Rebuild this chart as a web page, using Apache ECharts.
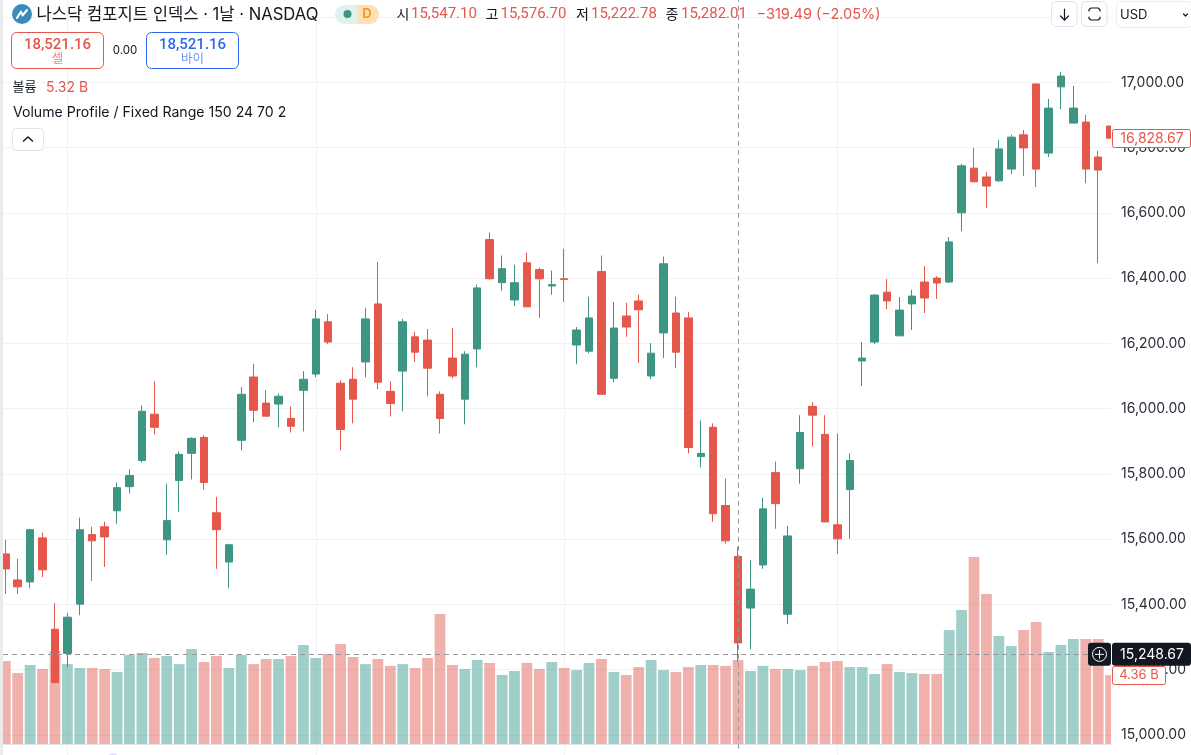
<!DOCTYPE html>
<html><head><meta charset="utf-8">
<style>html,body{margin:0;padding:0;background:#fff}#c{width:1191px;height:755px}</style>
<script src="https://cdn.jsdelivr.net/npm/echarts@6/dist/echarts.min.js"></script>
</head><body><div id="c"></div>
<script>
const opens  = [15555,15475,15469,15604,15324,15250,15401,15614,15638,15687,15761,15841,15983,15598,15780,15863,15912,15681,15530,15903,16097,16017,16014,15970,16056,16106,16266,16078,16090,16143,16321,16053,16115,16220,16210,16044,16155,16029,16183,16518,16386,16333,16447,16426,16376,16398,16195,16176,16420,16093,16284,16330,16100,16232,16293,16278,15853,15943,15703,15547.10,15389,15521,15804,15370,15816,16007,15921,15644,15752,16146,16204,16357,16223,16321,16388,16400,16388,16600,16737,16710,16698,16734,16839,16995,16783,16986,16875,16878,16771,16866];
const closes = [15509,15454,15629,15506,15161,15361,15629,15595,15607,15758,15795,15992,15943,15657,15860,15909,15774,15629,15583,16044,15995,15977,16038,15946,16090,16275,16204,15936,16029,16275,16081,16016,16266,16173,16124,15970,16100,16167,16370,16398,16429,16386,16312,16398,16380,16396,16241,16278,16044,16247,16250,16303,16170,16444,16173,15881,15863,15678,15595,15282.01,15447,15693,15709,15610,15927,15980,15653,15601,15841,16155,16348,16330,16302,16345,16339,16385,16511,16744,16695,16682,16796,16832,16799,16734,16921,17019,16921,16734,16731,16828.67];
const lows   = [15432,15432,15450,15484,15158,15207,15367,15472,15515,15647,15740,15835,15921,15552,15684,15783,15752,15509,15450,15872,15958,15977,15943,15927,15930,16096,16198,15872,15955,16096,16060,15976,15992,16143,16038,15924,16093,15952,16127,16395,16361,16315,16312,16278,16349,16327,16136,16170,16044,16081,16220,16140,16090,16155,16124,15863,15820,15653,15586,15222.78,15263,15509,15632,15340,15770,15884,15653,15555,15601,16069,16198,16305,16223,16241,16293,16336,16385,16544,16695,16615,16695,16719,16713,16679,16771,16918,16875,16691,16446,16828.67];
const highs  = [15598,15540,15632,15620,15404,15374,15666,15638,15654,15774,15814,16010,16084,15770,15869,15912,15918,15730,15586,16066,16137,16057,16047,16007,16115,16303,16290,16087,16127,16309,16450,16084,16275,16235,16244,16053,16247,16176,16380,16540,16469,16441,16478,16432,16423,16490,16250,16343,16469,16327,16324,16349,16201,16466,16343,16296,15964,15955,15786,15576.70,15536,15727,15838,15641,15980,16020,15980,15924,15863,16204,16351,16397,16342,16364,16437,16406,16526,16750,16799,16725,16823,16839,16854,16995,16949,17032,16989,16900,16790,16866];
const volumes= [5.25,4.49,5.0,4.75,5.89,5.06,4.81,4.81,4.75,4.56,5.63,5.76,5.44,5.57,5.06,6.01,5.19,5.57,4.81,5.63,5.06,5.38,5.38,5.57,6.27,5.44,5.70,6.33,5.51,5.06,5.38,4.94,5.06,4.81,5.44,8.23,5.0,4.75,5.32,5.13,4.37,4.62,5.13,4.75,5.19,4.81,4.68,5.13,5.38,4.56,4.37,4.87,5.32,4.68,4.56,4.87,5.0,5.0,4.94,5.32,4.62,4.94,4.75,4.75,4.68,4.94,5.19,5.25,4.87,4.87,4.43,5.06,4.56,4.49,4.43,4.43,7.22,8.48,11.84,9.49,6.84,6.2,7.22,7.72,5.82,6.27,6.65,6.65,6.65,4.36];
const monthTicks = [5,25,45,67];
const crossIndex = 59;
const crossPrice = 15248.67;
const lastPrice = 16828.67;
const lastVolume = 4.36;
const priceMin = 14800, priceMax = 17400, priceStep = 200;
const labelledMin = 15000, labelledMax = 17000;

const RED='#e5564b', GREEN='#3d9684', INK='#131722', FONT='Inter, "Noto Sans CJK KR", sans-serif', NUM='Roboto, "Noto Sans CJK KR", sans-serif';
const chart = echarts.init(document.getElementById('c'), null, {renderer:'canvas'});
const money = v => v.toLocaleString('en-US',{minimumFractionDigits:2,maximumFractionDigits:2});
const plot = {left:3, width:1108};
const xMin = -0.185, xMax = 89.03;

const candles = opens.map((o,i)=>[i,o,closes[i],lows[i],highs[i]]);
const bars = volumes.map((v,i)=>({value:[i,v], itemStyle:{color: closes[i]>opens[i] ? 'rgba(65,160,150,.5)' : 'rgba(224,90,78,.47)'}}));

function T(x,y,text,fill,size,extra){
  return {type:'text',z:100,silent:true,style:Object.assign({x,y,text,fill,fontSize:size,fontFamily:FONT,textVerticalAlign:'middle',textAlign:'left'},extra||{})};
}
function R(x,y,w,h,r,fill,stroke,z){
  return {type:'rect',z:z||99,silent:true,shape:{x,y,width:w,height:h,r},style:{fill:fill,stroke:stroke||null,lineWidth:1}};
}
function P(points,stroke,w){
  return {type:'polyline',z:100,silent:true,shape:{points},style:{stroke,lineWidth:w||1.3,fill:null,lineCap:'round',lineJoin:'round'}};
}

chart.setOption({
  animation:false,
  backgroundColor:'#fff',
  grid:[
    {left:plot.left,width:plot.width,top:-48.24,height:848.51,outerBoundsMode:'none'},
    {left:plot.left,width:plot.width,top:0,height:744,outerBoundsMode:'none'}
  ],
  xAxis:[
    {type:'value',gridIndex:0,min:xMin,max:xMax,axisLine:{show:false},
     axisTick:{show:false,customValues:monthTicks},axisLabel:{show:false,customValues:monthTicks},
     splitLine:{show:true,lineStyle:{color:'#f1f2f4',width:1}}},
    {type:'value',gridIndex:1,min:xMin,max:xMax,axisLine:{show:true,onZero:false,lineStyle:{color:'#e0e3eb',width:1}},
     axisTick:{show:false},axisLabel:{show:false},splitLine:{show:false}}
  ],
  yAxis:[
    {type:'value',gridIndex:0,position:'right',min:priceMin,max:priceMax,interval:priceStep,
     axisLine:{show:false},axisTick:{show:false},
     splitLine:{show:true,lineStyle:{color:'#f1f2f4',width:1}},
     axisLabel:{show:true,margin:10,color:'#2a2e39',fontSize:14,fontFamily:FONT,
       formatter:v=>(v<labelledMin||v>labelledMax)?'':money(v)}},
    {type:'value',gridIndex:1,min:0,max:47.09,axisLine:{show:false},axisTick:{show:false},axisLabel:{show:false},splitLine:{show:false}}
  ],
  series:[
    {type:'bar',name:'volume',xAxisIndex:1,yAxisIndex:1,data:bars,barWidth:10.8,z:1,silent:true},
    {type:'candlestick',name:'price',xAxisIndex:0,yAxisIndex:0,data:candles,barWidth:8,z:2,silent:true,
     itemStyle:{color:GREEN,color0:RED,borderColor:GREEN,borderColor0:RED,borderWidth:1},
     markLine:{silent:true,symbol:'none',animation:false,label:{show:false},
       lineStyle:{color:'#9598a1',type:[5,4],width:1},
       data:[
         {yAxis:crossPrice},
         [{xAxis:crossIndex,yAxis:priceMax},{xAxis:crossIndex,yAxis:14954}]
       ]}}
  ]
});

const yP = chart.convertToPixel({yAxisIndex:0},lastPrice);
const yC = chart.convertToPixel({yAxisIndex:0},crossPrice);
const yV = chart.convertToPixel({yAxisIndex:1},lastVolume);

const ui = [
  R(0,0,3,755,0,'#ebebeb'),
  R(1111,0,6,746,0,'#fff'),
  // title row
  {type:'circle',z:99,silent:true,shape:{cx:22,cy:14,r:10},style:{fill:'#3a8dbb'}},
  P([[17,18],[21,11.5],[22.5,15.5],[27,10]],'#fff',2),
  T(36.5,14.5,'나스닥 컴포지트 인덱스 · 1날 · NASDAQ',INK,16.6),
  R(335,5,44,19,9.5,'#e0f1ee'),
  R(357,5,22,19,[0,9.5,9.5,0],'#ffe0b2'),
  {type:'circle',z:100,silent:true,shape:{cx:347.5,cy:14,r:4},style:{fill:GREEN}},
  T(367,14.5,'D','#f7931a',13,{textAlign:'center',fontWeight:600}),
  // OHLC
  T(396.5,14.5,'시',INK,14), T(411,14.5,money(opens[crossIndex]),RED,15,{fontFamily:NUM}),
  T(485.5,14.5,'고',INK,14), T(500.5,14.5,money(highs[crossIndex]),RED,15,{fontFamily:NUM}),
  T(576,14.5,'저',INK,14), T(591,14.5,money(lows[crossIndex]),RED,15,{fontFamily:NUM}),
  T(665.5,14.5,'종',INK,14), T(681,14.5,money(closes[crossIndex]),RED,15,{fontFamily:NUM}),
  T(756.5,14.5,'−319.49 (−2.05%)',RED,14.5),
  // buy / sell
  R(11.5,32.5,92,36,5,'#fff',RED),
  T(57.5,45,'18,521.16',RED,15,{textAlign:'center',fontWeight:500,fontFamily:NUM}),
  T(57.5,59.5,'셀','#ef7f76',12.5,{textAlign:'center'}),
  T(125,50.5,'0.00',INK,11.5,{textAlign:'center'}),
  R(146.5,32.5,92,36,5,'#fff','#2f66f6'),
  T(192.5,45,'18,521.16','#2f66f6',15,{textAlign:'center',fontWeight:500,fontFamily:NUM}),
  T(192.5,59.5,'바이','#6f97f8',12.5,{textAlign:'center'}),
  // legends
  T(12.5,87,'볼륨',INK,13), T(46,87.5,'5.32 B',RED,14),
  T(13,113,'Volume Profile / Fixed Range 150 24 70 2',INK,14.1),
  R(12.5,128.5,31,22,4,'#fff','#e0e3eb'),
  P([[23.5,141],[28,137],[32.5,141]],INK,1.5),
  // top-right controls
  R(1051.5,1.5,25.5,25,5,'#fff','#e0e3eb'),
  P([[1064.5,9],[1064.5,20]],INK,1.2), P([[1060.5,16],[1064.5,20],[1068.5,16]],INK,1.2),
  R(1081.5,1.5,25.5,25,5,'#fff','#e0e3eb'),
  P([[1089,11],[1089,9.5],[1091,8],[1098,8],[1100,9.5],[1100,11]],INK,1.2),
  P([[1089,17],[1089,18.5],[1091,20],[1098,20],[1100,18.5],[1100,17]],INK,1.2),
  R(1116.5,1.5,76,26,5,'#fff','#eceef2'),
  T(1120,15,'USD',INK,13),
  P([[1183.5,14],[1185.5,16],[1187.5,14]],INK,1.2),
  // bottom fragment
  {type:'circle',z:100,silent:true,shape:{cx:113,cy:759,r:6},style:{fill:'#e6defa'}},
  // last price tag
  R(1112.5,Math.round(yP)-8.5,78,18,2,'#fff',RED),
  T(1152,Math.round(yP)+0.5,money(lastPrice),RED,14,{textAlign:'center'}),
  // volume tag
  R(1112.5,Math.round(yV)-8.5,53,18,2,'#fff',RED),
  T(1139,Math.round(yV)+0.5,lastVolume.toFixed(2)+' B',RED,13,{textAlign:'center'}),
  // crosshair tags
  R(1112,yC-11,79,23,3,INK,null,101),
  R(1088,yC-11,23,23,3,INK,null,101),
  {type:'circle',z:102,silent:true,shape:{cx:1099.5,cy:yC+0.5,r:7},style:{fill:null,stroke:'#fff',lineWidth:1}},
  Object.assign(P([[1095.5,yC+0.5],[1103.5,yC+0.5]],'#fff',1),{z:102}),
  Object.assign(P([[1099.5,yC-3.5],[1099.5,yC+4.5]],'#fff',1),{z:102}),
  Object.assign(T(1152,yC+0.5,money(crossPrice),'#fff',14,{textAlign:'center'}),{z:102})
];
chart.setOption({graphic:{elements:ui}});
</script></body></html>
